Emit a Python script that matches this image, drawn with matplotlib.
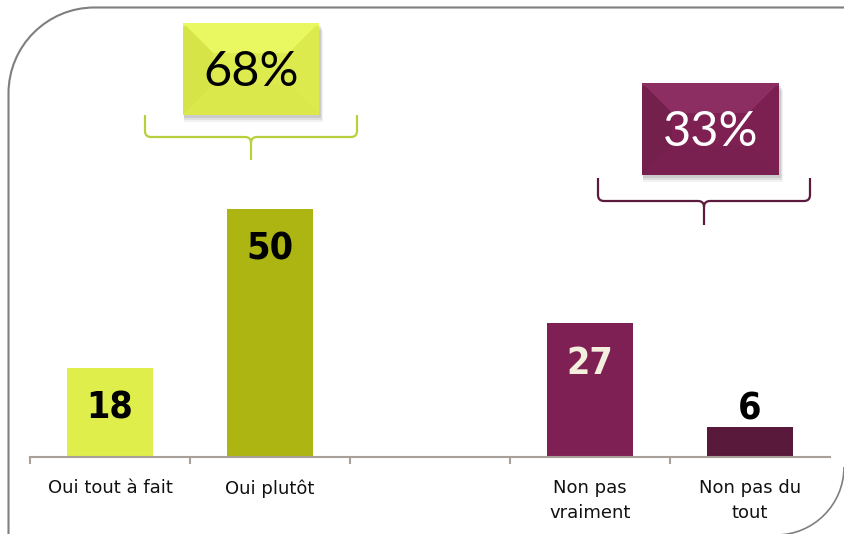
import matplotlib
matplotlib.use("Agg")
import matplotlib.pyplot as plt
from matplotlib.path import Path
from matplotlib.patches import PathPatch, Rectangle, Polygon
import numpy as np

# data
categories = ["Oui tout à fait", "Oui plutôt", "", "Non pas\nvraiment", "Non pas du\ntout"]
values = [18, 50, None, 27, 6]
bar_colors = ["#DFEE4B", "#ADB513", None, "#7E2053", "#58193A"]
label_colors = ["#000000", "#000000", None, "#F3EEDD", "#000000"]
group_totals = ["68%", "33%"]

W, H = 844, 534
fig = plt.figure(figsize=(W / 100, H / 100), dpi=100)
fig.patch.set_facecolor("white")

axis_col = "#A89F98"

# ---- main bar axes
ax = fig.add_axes([30 / W, 77 / H, 800 / W, 449 / H])
ax.set_xlim(-0.5, 4.5)
ax.set_ylim(0, 449 / 4.96)
ax.patch.set_alpha(0)

for i, v in enumerate(values):
    if v is None:
        continue
    ax.bar(i, v, width=0.535, color=bar_colors[i], zorder=2)
    off = -29.5 if v > 10 else 13
    ax.annotate(str(v), (i, v), xytext=(0, off), textcoords="offset points",
                ha="center", va="center", fontsize=27, fontweight="bold",
                family="DejaVu Sans", fontstretch="condensed",
                color=label_colors[i])

ax.set_xticks(range(len(categories)))
ax.set_xticklabels(categories, fontsize=13, color="#111111", linespacing=1.45)
ax.tick_params(axis="x", which="major", length=0, pad=16)
ax.set_xticks(np.arange(-0.5, 4.0, 1.0), minor=True)
ax.tick_params(axis="x", which="minor", length=5, width=1.5, color=axis_col, direction="out")
ax.set_yticks([])
for s in ["top", "right", "left"]:
    ax.spines[s].set_visible(False)
ax.spines["bottom"].set_color(axis_col)
ax.spines["bottom"].set_linewidth(1.5)

# ---- overlay in pixel coords for decorations
ov = fig.add_axes([0, 0, 1, 1])
ov.set_xlim(0, W)
ov.set_ylim(H, 0)
ov.axis("off")
ov.patch.set_alpha(0)

# rounded frame (top-left and bottom-right corners)
r = 86
k = 0.5523
fx, fy = 8.5, 7.5
verts = [(fx, H + 5), (fx, fy + r),
         (fx, fy + r - k * r), (fx + r - k * r, fy), (fx + r, fy),
         (W + 5, fy)]
codes = [Path.MOVETO, Path.LINETO, Path.CURVE4, Path.CURVE4, Path.CURVE4, Path.LINETO]
ov.add_patch(PathPatch(Path(verts, codes), fill=False, edgecolor="#7F7F7F", lw=1.5))
r2 = 68
cx, cy = 844, 535
verts = [(cx, cy - r2), (cx, cy - r2 + k * r2), (cx - r2 + k * r2, cy), (cx - r2, cy)]
codes = [Path.MOVETO, Path.CURVE4, Path.CURVE4, Path.CURVE4]
ov.add_patch(PathPatch(Path(verts, codes), fill=False, edgecolor="#7F7F7F", lw=1.2))


def bracket(x0, x1, ytop, ymid, ystem, color):
    xc = (x0 + x1) / 2
    c = 6
    verts = [(x0, ytop), (x0, ymid - c), (x0, ymid), (x0 + c, ymid),
             (xc - c, ymid), (xc, ymid), (xc, ymid + c), (xc, ystem)]
    codes = [Path.MOVETO, Path.LINETO, Path.CURVE3, Path.CURVE3,
             Path.LINETO, Path.CURVE3, Path.CURVE3, Path.LINETO]
    ov.add_patch(PathPatch(Path(verts, codes), fill=False, edgecolor=color, lw=1.6))
    verts = [(x1, ytop), (x1, ymid - c), (x1, ymid), (x1 - c, ymid),
             (xc + c, ymid), (xc, ymid), (xc, ymid + c)]
    codes = [Path.MOVETO, Path.LINETO, Path.CURVE3, Path.CURVE3,
             Path.LINETO, Path.CURVE3, Path.CURVE3]
    ov.add_patch(PathPatch(Path(verts, codes), fill=False, edgecolor=color, lw=1.6))


def bevel_box(x0, y0, x1, y1, face, top, left, right, bottom, text, tcolor):
    # soft shadow
    for d, a in [(7, 0.05), (5, 0.07), (3, 0.09)]:
        ov.add_patch(Rectangle((x0 + 1, y0 + d), x1 - x0 + d * 0.4, y1 - y0,
                               facecolor="black", alpha=a, lw=0))
    ov.add_patch(Rectangle((x0, y0), x1 - x0, y1 - y0, facecolor=face, lw=0))
    b = 30
    ov.add_patch(Polygon([(x0, y0), (x1, y0), (x1 - b, y0 + b), (x0 + b, y0 + b)],
                         facecolor=top, lw=0))
    ov.add_patch(Polygon([(x0, y0), (x0 + b, y0 + b), (x0 + b, y1 - b), (x0, y1)],
                         facecolor=left, lw=0))
    ov.add_patch(Polygon([(x1, y0), (x1 - b, y0 + b), (x1 - b, y1 - b), (x1, y1)],
                         facecolor=right, lw=0))
    ov.add_patch(Polygon([(x0, y1), (x0 + b, y1 - b), (x1 - b, y1 - b), (x1, y1)],
                         facecolor=bottom, lw=0))
    ov.add_patch(Rectangle((x0, y0), x1 - x0, 3, facecolor=top, lw=0))
    ov.text((x0 + x1) / 2, (y0 + y1) / 2 + 3, text, ha="center", va="center",
            fontsize=35, color=tcolor, family="Lato")


bracket(145, 357, 115, 137, 160, "#B9CF3C")
bracket(598, 810, 178, 201, 225, "#5C1A3C")

bevel_box(183, 23, 319, 115, "#DDEB4E", "#E9F760", "#D6E448", "#DCEA4D", "#DAE84C",
          group_totals[0], "black")
bevel_box(642, 83, 779, 175, "#7E2052", "#8C2E61", "#74204C", "#7C2051", "#7A2050",
          group_totals[1], "white")

fig.savefig("out.png", dpi=100)
